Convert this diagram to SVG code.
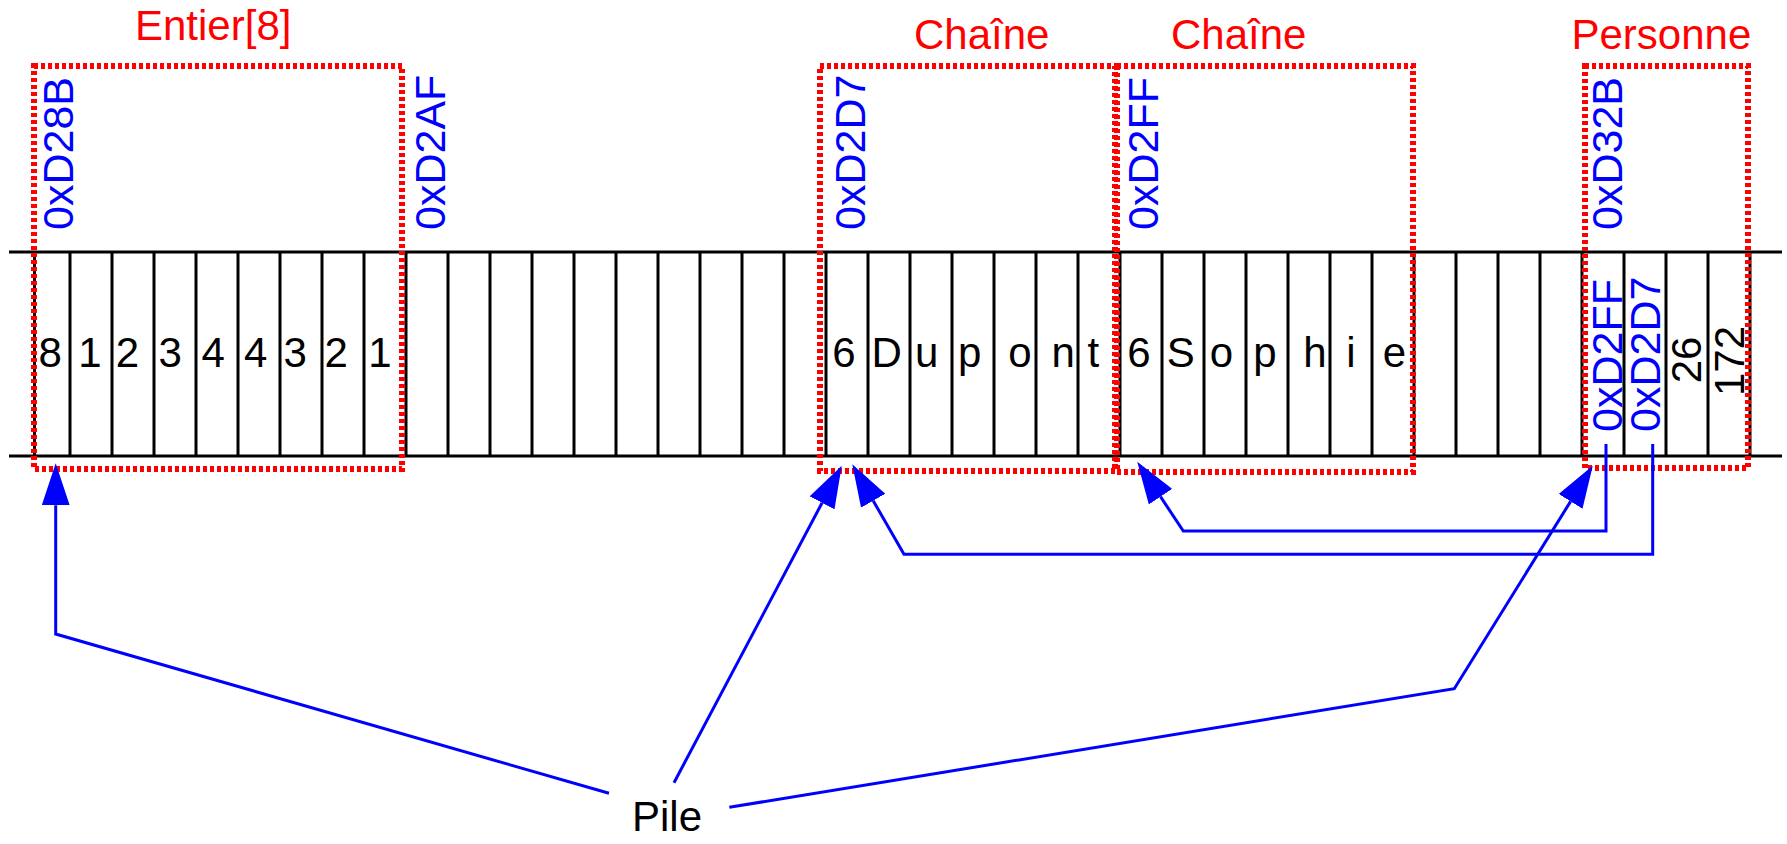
<svg xmlns="http://www.w3.org/2000/svg" width="1787" height="844" viewBox="0 0 1787 844">
<defs>
<style>
text { font-family: "Liberation Sans", Arial, sans-serif; font-size: 42px; }
.cell { stroke: #000; stroke-width: 3; fill: none; }
.box { fill: none; stroke: #f00; stroke-width: 6; stroke-dasharray: 4 3; }
.title { fill: #f00; }
.addr { fill: #00f; font-size: 43px; }
.val { fill: #000; text-anchor: middle; }
.conn { stroke: #00f; stroke-width: 3; fill: none; marker-end: url(#arr); }
</style>
<marker id="arr" viewBox="0 0 42 28" refX="0" refY="14" markerWidth="42" markerHeight="28" markerUnits="userSpaceOnUse" orient="auto">
<path d="M0,0 L42,14 L0,28 z" fill="#00f"/>
</marker>
</defs>
<rect width="1787" height="844" fill="#fff"/>

<g id="memory">
<path class="cell" d="M9,252 H1782 M9,456 H1782 M34.5,252 V456 M70,252 V456 M112,252 V456 M154,252 V456 M196,252 V456 M238,252 V456 M280,252 V456 M322,252 V456 M364,252 V456 M406,252 V456 M448,252 V456 M490,252 V456 M532,252 V456 M574,252 V456 M616,252 V456 M658,252 V456 M700,252 V456 M742,252 V456 M784,252 V456 M826,252 V456 M868,252 V456 M910,252 V456 M952,252 V456 M994,252 V456 M1036,252 V456 M1078,252 V456 M1120,252 V456 M1162,252 V456 M1204,252 V456 M1246,252 V456 M1288,252 V456 M1330,252 V456 M1372,252 V456 M1414,252 V456 M1456,252 V456 M1498,252 V456 M1540,252 V456 M1582,252 V456 M1624,252 V456 M1666,252 V456 M1708,252 V456 M1750,252 V456"/>
<text class="addr" transform="translate(445,230) rotate(-90)">0xD2AF</text>
</g>

<g id="entier">
<rect class="box" x="34" y="66" width="368" height="403"/>
<text class="title" x="135" y="40">Entier[8]</text>
<text class="addr" transform="translate(72.7,230) rotate(-90)">0xD28B</text>
<text class="val" x="50.2" y="367">8</text>
<text class="val" x="90" y="367">1</text>
<text class="val" x="127.5" y="367">2</text>
<text class="val" x="170.2" y="367">3</text>
<text class="val" x="213.2" y="367">4</text>
<text class="val" x="255.8" y="367">4</text>
<text class="val" x="295.2" y="367">3</text>
<text class="val" x="336.2" y="367">2</text>
<text class="val" x="380" y="367">1</text>
</g>

<g id="chaine1">
<rect class="box" x="820" y="66" width="295" height="405"/>
<text class="title" x="914" y="49">Chaîne</text>
<text class="addr" transform="translate(865,230) rotate(-90)">0xD2D7</text>
<text class="val" x="844" y="367">6</text>
<text class="val" x="886.7" y="367">D</text>
<text class="val" x="926.7" y="367">u</text>
<text class="val" x="969.7" y="367">p</text>
<text class="val" x="1020" y="367">o</text>
<text class="val" x="1063.3" y="367">n</text>
<text class="val" x="1093.3" y="367">t</text>
</g>

<g id="chaine2">
<rect class="box" x="1117" y="66" width="296" height="406"/>
<text class="title" x="1171" y="49">Chaîne</text>
<text class="addr" transform="translate(1158,230) rotate(-90)">0xD2FF</text>
<text class="val" x="1139" y="367">6</text>
<text class="val" x="1180.8" y="367">S</text>
<text class="val" x="1221.5" y="367">o</text>
<text class="val" x="1265" y="367">p</text>
<text class="val" x="1315" y="367">h</text>
<text class="val" x="1350.8" y="367">i</text>
<text class="val" x="1394.5" y="367">e</text>
</g>

<g id="personne">
<rect class="box" x="1585" y="66" width="163" height="402"/>
<text class="title" x="1571.5" y="49">Personne</text>
<text class="addr" transform="translate(1621.5,230) rotate(-90)">0xD32B</text>
<text class="addr" transform="translate(1621.7,432) rotate(-90)">0xD2FF</text>
<text class="addr" transform="translate(1660,432) rotate(-90)">0xD2D7</text>
<text class="val" transform="translate(1700.7,360) rotate(-90)">26</text>
<text class="val" transform="translate(1744,361) rotate(-90)">172</text>
</g>

<g id="pile">
<text x="667" y="831" style="text-anchor:middle;fill:#000">Pile</text>
</g>

<g id="connectors">
<path class="conn" d="M609,793.3 L55.7,634 L55.7,505.3"/>
<path class="conn" d="M674,782.7 L822.1,502.8"/>
<path class="conn" d="M729.3,807.3 L1454.3,688.7 L1570.6,501.4"/>
<path class="conn" d="M1606,444 L1606,531 L1183.3,531 L1160.5,496.7"/>
<path class="conn" d="M1652.7,444 L1652.7,554.3 L904,554.3 L873.2,500.7"/>
</g>
</svg>
